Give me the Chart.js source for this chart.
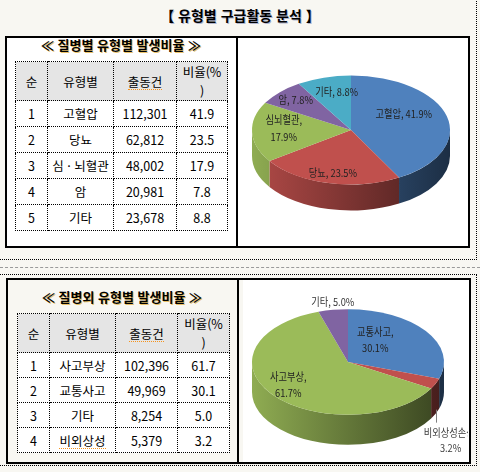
<!DOCTYPE html>
<html lang="ko">
<head>
<meta charset="utf-8">
<script src="https://cdn.jsdelivr.net/npm/chart.js@4.4.1/dist/chart.umd.min.js"></script>
<style>
  html, body { margin: 0; padding: 0; }
  body {
    width: 480px; height: 472px; position: relative; overflow: hidden;
    background: #f8f7f2; color: #000;
    font-family: "Noto Sans CJK KR", "Noto Sans", sans-serif;
  }
  .abs { position: absolute; box-sizing: border-box; }
  #title {
    left: 0; top: 4px; width: 480px; text-align: center;
    font-size: 14px; font-weight: bold; line-height: 22px;
    text-shadow: 1px 1px 0 rgba(40, 60, 140, 0.35);
  }
  .frame { border-color: #000; border-style: dotted; border-width: 0; }
  .box { border: 2px solid #000; }
  .divider { width: 2px; background: #000; }
  .sub {
    font-size: 13px; font-weight: bold; line-height: 18px; text-align: center; width: 232px;
    text-shadow: 1px 1px 0 rgba(226, 168, 40, 0.7);
  }
  .panel { background: #fff; overflow: hidden; }
  .panel canvas { position: absolute; }
  table { position: absolute; border-collapse: collapse; table-layout: fixed; }
  td {
    border: 1px dotted #000; text-align: center; vertical-align: middle;
    font-size: 12.5px; padding: 0; background: #fff; line-height: 19px;
  }
  tr.head td { background: #e5e5e5; }
  .spell { border-bottom: 1px dotted #f7941d; line-height: 15px; display: inline-block; }
</style>
</head>
<body>
<div id="title" class="abs">【 유형별 구급활동 분석 】</div>

<!-- upper block -->
<div class="abs frame" style="left:-2px; top:-2px; width:479px; height:262px; border-right-width:1px; border-bottom-width:1px;"></div>
<div class="abs box" style="left:5px; top:36px; width:465px; height:212px; background:#fff;"></div>
<div class="abs divider" style="left:236px; top:36px; height:212px;"></div>
<div class="abs sub" style="left:5px; top:36px;">≪ 질병별 유형별 발생비율 ≫</div>
<table id="table1" style="left:15px; top:61px; width:212px;">
  <colgroup><col style="width:32px"><col style="width:66px"><col style="width:63px"><col style="width:51px"></colgroup>
  <tbody></tbody>
</table>
<div class="abs panel" style="left:238px; top:38px; width:230px; height:208px;">
  <canvas id="pie1" width="240" height="240" style="left:-7px; top:-28px;"></canvas>
</div>

<!-- gray separator -->
<div class="abs" style="left:0; top:267px; width:480px; height:1px; border-top:1px dashed #9a9a9a;"></div>

<!-- lower block -->
<div class="abs frame" style="left:-2px; top:274px; width:479px; height:192px; border-top-width:1px; border-right-width:1px; border-bottom-width:1px;"></div>
<div class="abs box" style="left:6px; top:278px; width:465px; height:186px; background:#f8f7f2;"></div>
<div class="abs divider" style="left:237px; top:278px; height:186px;"></div>
<div class="abs sub" style="left:6px; top:288px;">≪ 질병외 유형별 발생비율 ≫</div>
<table id="table2" style="left:17px; top:313px; width:212px;">
  <colgroup><col style="width:32px"><col style="width:66px"><col style="width:62px"><col style="width:52px"></colgroup>
  <tbody></tbody>
</table>
<div class="abs panel" style="left:243px; top:280px; width:226px; height:182px;">
  <canvas id="pie2" width="240" height="240" style="left:-15px; top:-38px;"></canvas>
</div>

<script>
// 질병별 (disease) data, table order = pie order
const diseaseTypes = ["고혈압", "당뇨", "심 · 뇌혈관", "암", "기타"];
const diseasePieLabels = ["고혈압", "당뇨", "심뇌혈관", "암", "기타"];
const diseaseCounts = [112301, 62812, 48002, 20981, 23678];
const diseasePcts = [41.9, 23.5, 17.9, 7.8, 8.8];
const diseaseColors = ["#4f81bd", "#c0504d", "#9bbb59", "#8064a2", "#4bacc6"];

// 질병외 (non-disease) data, table order
const injuryTypes = ["사고부상", "교통사고", "기타", "비외상성"];
const injuryCounts = [102396, 49969, 8254, 5379];
const injuryPcts = [61.7, 30.1, 5.0, 3.2];
// the pie lists the slices in another order
const injuryPieOrder = [1, 3, 0, 2];
const injuryPieLabels = ["교통사고", "비외상성손상", "사고부상", "기타"];
const injuryColors = ["#4f81bd", "#c0504d", "#9bbb59", "#8064a2"];

const tableHeads = ["순", "유형별", "출동건", "비율(%<br>)"];
const spellMarks = ["출동건", "비외상성"];

function mark(text) {
  return spellMarks.includes(text) ? `<span class="spell">${text}</span>` : text;
}

function fillTable(id, types, counts, pcts, headH, rowH) {
  let body = document.querySelector(`#${id} tbody`);
  let html = `<tr class="head" style="height:${headH}px">` +
    tableHeads.map(h => `<td>${mark(h)}</td>`).join("") + "</tr>";
  types.forEach((t, i) => {
    html += `<tr style="height:${rowH}px"><td>${i + 1}</td><td>${mark(t)}</td>` +
      `<td>${counts[i].toLocaleString("en-US")}</td><td>${pcts[i].toFixed(1)}</td></tr>`;
  });
  body.innerHTML = html;
}

fillTable("table1", diseaseTypes, diseaseCounts, diseasePcts, 33, 26);
fillTable("table2", injuryTypes, injuryCounts, injuryPcts, 35, 25);

function shade(hex, k) {
  let n = parseInt(hex.slice(1), 16);
  let r = Math.round(((n >> 16) & 255) * k);
  let g = Math.round(((n >> 8) & 255) * k);
  let b = Math.round((n & 255) * k);
  return `rgb(${r},${g},${b})`;
}

// squashes the pie into an ellipse and draws the side wall + labels
const pie3d = {
  id: "pie3d",
  beforeDatasetsDraw(chart, args, opts) {
    let ctx = chart.ctx;
    let arcs = chart.getDatasetMeta(0).data;
    let cx = arcs[0].x, cy = arcs[0].y, rx = arcs[0].outerRadius, ry = rx * opts.tilt;
    let colors = chart.data.datasets[0].backgroundColor;
    arcs.forEach((arc, i) => {
      let s = Math.max(arc.startAngle, 0), e = Math.min(arc.endAngle, Math.PI);
      if (e <= s) return;
      let g = ctx.createLinearGradient(cx - rx, 0, cx + rx, 0);
      g.addColorStop(0, shade(colors[i], 0.92));
      g.addColorStop(1, shade(colors[i], 0.36));
      ctx.beginPath();
      ctx.ellipse(cx, cy, rx, ry, 0, s, e);
      ctx.ellipse(cx, cy + opts.depth, rx, ry, 0, e, s, true);
      ctx.closePath();
      ctx.fillStyle = g;
      ctx.fill();
    });
    ctx.save();
    ctx.translate(0, cy);
    ctx.scale(1, opts.tilt);
    ctx.translate(0, -cy);
  },
  afterDatasetsDraw(chart, args, opts) {
    let ctx = chart.ctx;
    ctx.restore();
    let arcs = chart.getDatasetMeta(0).data;
    let cx = arcs[0].x, cy = arcs[0].y, rx = arcs[0].outerRadius, ry = rx * opts.tilt;
    ctx.save();
    ctx.font = "11px 'Noto Sans CJK KR'";
    ctx.textBaseline = "middle";
    arcs.forEach((arc, i) => {
      let p = opts.pos[i];
      let mid = (arc.startAngle + arc.endAngle) / 2;
      let name = chart.data.labels[i], pct = opts.pcts[i].toFixed(1) + "%";
      let lines = p.wrap ? [name + ",", pct] : [name + ", " + pct];
      let x, y;
      if (p.leader) {
        let lx = cx + rx * Math.cos(mid), ly = cy + ry * Math.sin(mid) + opts.depth;
        ctx.strokeStyle = "#7f7f7f";
        ctx.lineWidth = 1;
        ctx.beginPath();
        ctx.moveTo(Math.round(lx) + 0.5, ly - 4);
        ctx.lineTo(Math.round(lx) + 0.5, ly + 9);
        ctx.stroke();
        x = lx + p.dx;
        y = ly + p.dy;
      } else {
        x = cx + p.f * rx * Math.cos(mid) + (p.dx || 0);
        y = cy + p.f * ry * Math.sin(mid) + (p.dy || 0);
      }
      let lh = p.lh || 16;
      lines.forEach((ln, j) => {
        let ly = y + (j - (lines.length - 1) / 2) * lh;
        ctx.save();
        ctx.translate(x, ly);
        ctx.scale(0.84, 1);
        ctx.textAlign = "center";
        ctx.fillStyle = p.color || "#222";
        ctx.fillText(ln, 0, 0);
        ctx.restore();
      });
    });
    ctx.restore();
  }
};

function makePie(canvasId, labels, values, colors, pcts, pad, depth, pos) {
  let ctx = document.getElementById(canvasId).getContext("2d");
  return new Chart(ctx, {
    type: "pie",
    data: {
      labels: labels,
      datasets: [{ data: values, backgroundColor: colors, borderWidth: 0, clip: false }]
    },
    options: {
      responsive: false,
      animation: false,
      events: [],
      layout: { padding: pad },
      plugins: {
        legend: { display: false },
        tooltip: { enabled: false },
        pie3d: { tilt: 0.55, depth: depth, pcts: pcts, pos: pos }
      }
    },
    plugins: [pie3d]
  });
}

makePie("pie1", diseasePieLabels, diseaseCounts, diseaseColors, diseasePcts, 21, 26, [
  { f: 0.55, dy: -9 },
  { f: 0.8 },
  { f: 0.68, dy: -3, wrap: true, lh: 17 },
  { f: 0.75, dx: -2, dy: -2 },
  { f: 0.75, dx: 6, dy: 1 }
]);

makePie("pie2", injuryPieLabels, injuryPieOrder.map(i => injuryCounts[i]), injuryColors,
  injuryPieOrder.map(i => injuryPcts[i]), 24, 30, [
  { f: 0.35, dy: -11, wrap: true },
  { leader: true, dx: 15, dy: 27, wrap: true, lh: 15, color: "#3a3a3a" },
  { f: 0.8, dy: -4, wrap: true },
  { f: 1.15, dx: 2, dy: 0, color: "#333" }
]);
</script>
</body>
</html>
